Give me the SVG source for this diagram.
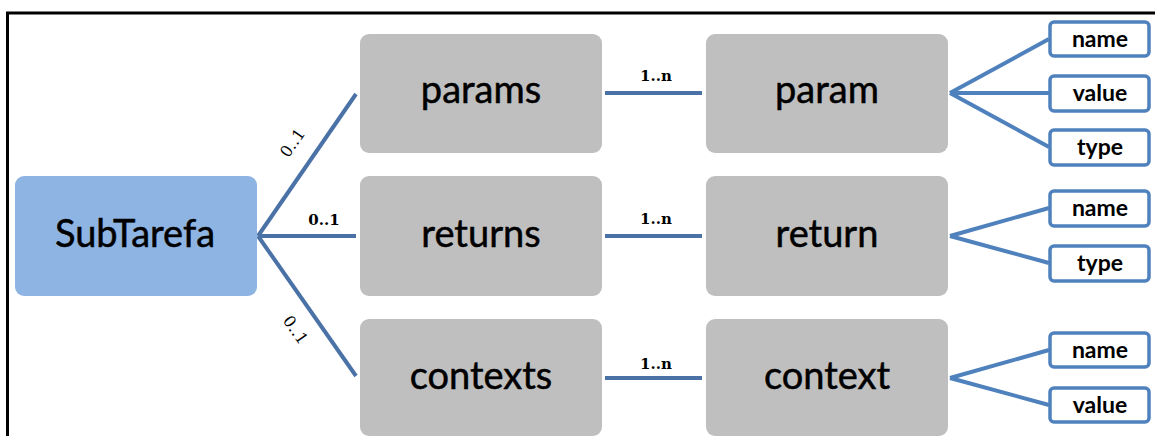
<svg xmlns="http://www.w3.org/2000/svg" width="1155" height="436" viewBox="0 0 1155 436">
  <style>
    .frame { fill: none; stroke: #000; stroke-width: 3; }
    .root { fill: #8EB4E3; }
    .entity { fill: #BFBFBF; }
    .attr { fill: #fff; stroke: #4F81BD; stroke-width: 3.5; }
    .big { font-family: Lato, "Open Sans", sans-serif; font-size: 38px; fill: #000; stroke: #000; stroke-width: 0.5; text-anchor: middle; }
    .small { font-family: Lato, "Open Sans", sans-serif; font-size: 23px; font-weight: bold; fill: #000; text-anchor: middle; }
    .card { font-family: "DejaVu Serif", "Liberation Serif", serif; font-size: 16px; fill: #000; text-anchor: middle; }
    .cardb { font-family: "DejaVu Serif", "Liberation Serif", serif; font-size: 15px; font-weight: bold; fill: #000; text-anchor: middle; }
    .conn line { stroke: #4A72A6; stroke-width: 4; }
    .fan line { stroke: #4F81BD; stroke-width: 4; }
  </style>

  <!-- page frame (top and left edges) -->
  <path class="frame" d="M7.5,436 V13 H1155"/>

  <!-- connectors -->
  <g id="connectors">
    <g class="conn">
      <line x1="258" y1="236" x2="356" y2="94"/>
      <line x1="258" y1="236" x2="356" y2="236"/>
      <line x1="258" y1="236" x2="356" y2="376"/>
      <line x1="605" y1="93" x2="702" y2="93"/>
      <line x1="605" y1="236" x2="702" y2="236"/>
      <line x1="605" y1="378" x2="702" y2="378"/>
    </g>
    <g class="fan">
      <line x1="950" y1="93" x2="1049" y2="39"/>
      <line x1="950" y1="93" x2="1049" y2="93"/>
      <line x1="950" y1="93" x2="1049" y2="147"/>
      <line x1="950" y1="236" x2="1049" y2="208"/>
      <line x1="950" y1="236" x2="1049" y2="263"/>
      <line x1="950" y1="378" x2="1049" y2="350"/>
      <line x1="950" y1="378" x2="1049" y2="405"/>
    </g>
    <!-- cardinality labels -->
    <text class="card" transform="translate(297,146) rotate(-55)">0..1</text>
    <text class="cardb" x="324" y="225">0..1</text>
    <text class="card" transform="translate(291,333) rotate(55)">0..1</text>
    <text class="cardb" x="656" y="81">1..n</text>
    <text class="cardb" x="656" y="224">1..n</text>
    <text class="cardb" x="656" y="369">1..n</text>
  </g>

  <!-- root element -->
  <g id="node-subtarefa">
    <rect class="root" x="15" y="176" width="242" height="120" rx="9"/>
    <text class="big" x="135" y="247">SubTarefa</text>
  </g>

  <!-- collection elements -->
  <g id="node-params">
    <rect class="entity" x="360" y="34" width="242" height="119" rx="9"/>
    <text class="big" x="481" y="103">params</text>
  </g>
  <g id="node-returns">
    <rect class="entity" x="360" y="176" width="242" height="120" rx="9"/>
    <text class="big" x="481" y="247">returns</text>
  </g>
  <g id="node-contexts">
    <rect class="entity" x="360" y="319" width="242" height="117" rx="9"/>
    <text class="big" x="481" y="389">contexts</text>
  </g>

  <!-- item elements -->
  <g id="node-param">
    <rect class="entity" x="706" y="34" width="242" height="119" rx="9"/>
    <text class="big" x="827" y="103">param</text>
  </g>
  <g id="node-return">
    <rect class="entity" x="706" y="176" width="242" height="120" rx="9"/>
    <text class="big" x="827" y="247">return</text>
  </g>
  <g id="node-context">
    <rect class="entity" x="706" y="319" width="242" height="117" rx="9"/>
    <text class="big" x="827" y="389">context</text>
  </g>

  <!-- attributes of param -->
  <g id="node-param-name">
    <rect class="attr" x="1050" y="22" width="99" height="34" rx="4"/>
    <text class="small" x="1100" y="47">name</text>
  </g>
  <g id="node-param-value">
    <rect class="attr" x="1050" y="76" width="99" height="35" rx="4"/>
    <text class="small" x="1100" y="101">value</text>
  </g>
  <g id="node-param-type">
    <rect class="attr" x="1050" y="130" width="99" height="35" rx="4"/>
    <text class="small" x="1100" y="155">type</text>
  </g>

  <!-- attributes of return -->
  <g id="node-return-name">
    <rect class="attr" x="1050" y="191" width="99" height="35" rx="4"/>
    <text class="small" x="1100" y="216">name</text>
  </g>
  <g id="node-return-type">
    <rect class="attr" x="1050" y="246" width="99" height="35" rx="4"/>
    <text class="small" x="1100" y="271">type</text>
  </g>

  <!-- attributes of context -->
  <g id="node-context-name">
    <rect class="attr" x="1050" y="333" width="99" height="34" rx="4"/>
    <text class="small" x="1100" y="358">name</text>
  </g>
  <g id="node-context-value">
    <rect class="attr" x="1050" y="388" width="99" height="34" rx="4"/>
    <text class="small" x="1100" y="413">value</text>
  </g>
</svg>
